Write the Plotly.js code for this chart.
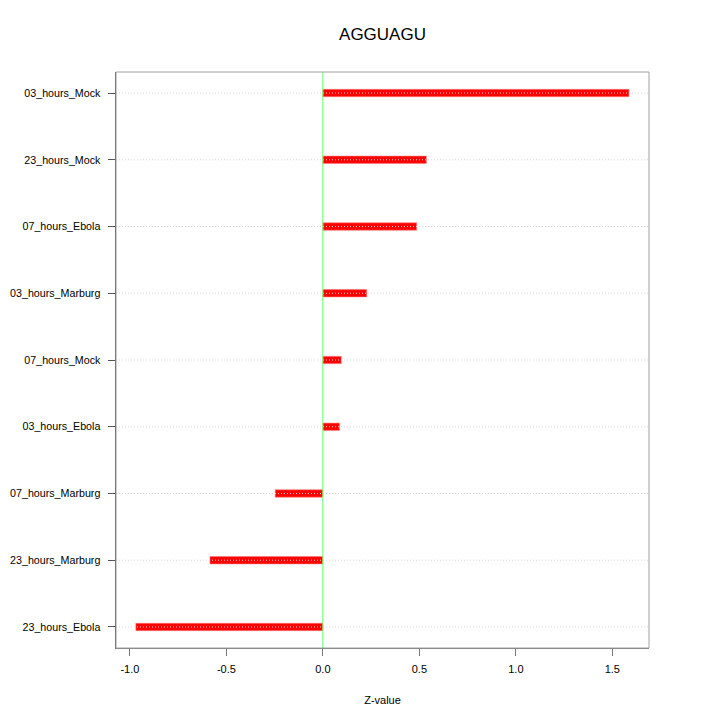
<!DOCTYPE html>
<html>
<head>
<meta charset="utf-8">
<script src="https://cdn.plot.ly/plotly-3.0.1.min.js"></script>
<style>html,body{margin:0;padding:0;background:#fff;}#chart{width:720px;height:720px;}</style>
</head>
<body>
<div id="chart"></div>
<script>
// Categories from bottom to top
var categories = ["23_hours_Ebola","23_hours_Marburg","07_hours_Marburg","03_hours_Ebola","07_hours_Mock","03_hours_Marburg","07_hours_Ebola","23_hours_Mock","03_hours_Mock"];
var zValues = [-0.969, -0.585, -0.247, 0.086, 0.095, 0.227, 0.486, 0.536, 1.586];
var xTickVals = [-1.0, -0.5, 0.0, 0.5, 1.0, 1.5];
var xTickText = xTickVals.map(function(v){ return v.toFixed(1); });
var chartTitle = "AGGUAGU";
var xTitle = "Z-value";

var font = "Liberation Sans, Arial, Helvetica, sans-serif";

var shapes = [];
// dotted guide lines over the bars
categories.forEach(function(c){
  shapes.push({type:"line", xref:"paper", x0:0, x1:1, yref:"y", y0:c, y1:c,
    line:{color:"rgba(215,215,215,0.95)", width:1, dash:"1px,2px"}, layer:"above"});
});
// zero line
shapes.push({type:"line", xref:"x", x0:0, x1:0, yref:"paper", y0:0, y1:1,
  line:{color:"#66ff66", width:1}, layer:"above"});
// box
shapes.push({type:"rect", xref:"paper", yref:"paper", x0:0, x1:1, y0:0, y1:1,
  line:{color:"#a0a0a0", width:1}, layer:"above"});

var trace = {
  type:"bar", orientation:"h",
  y: categories, x: zValues,
  width: 0.11,
  marker:{color:"#ff0000", line:{width:0.6, color:"rgba(255,120,120,1)"}},
  hoverinfo:"x+y"
};

var layout = {
  width:720, height:720,
  margin:{l:116, r:71, t:72, b:72},
  paper_bgcolor:"#ffffff", plot_bgcolor:"#ffffff",
  showlegend:false,
  font:{family:font, color:"#000"},
  title:{text:chartTitle, font:{family:font, size:17, color:"#000"},
    xref:"paper", x:0.5, xanchor:"center", yref:"container", y:1-34/720, yanchor:"middle"},
  xaxis:{range:[-1.072, 1.690], tickvals:xTickVals, ticktext:xTickText,
    showgrid:false, zeroline:false, showline:true, linecolor:"#777", linewidth:1,
    ticks:"outside", ticklen:7, tickcolor:"#777", tickfont:{size:11, family:font},
    ticklabelstandoff:4,
    title:{text:xTitle, font:{size:11, family:font}, standoff:22}},
  yaxis:{type:"category", categoryorder:"array", categoryarray:categories,
    range:[-0.315, 8.315], showgrid:false, zeroline:false, showline:true,
    linecolor:"#555", linewidth:1.5, ticks:"outside", ticklen:7, tickcolor:"#555",
    tickfont:{size:10.7, family:font}, ticklabelstandoff:5},
  shapes:shapes
};

Plotly.newPlot("chart", [trace], layout, {displayModeBar:false, staticPlot:true});
</script>
</body>
</html>
